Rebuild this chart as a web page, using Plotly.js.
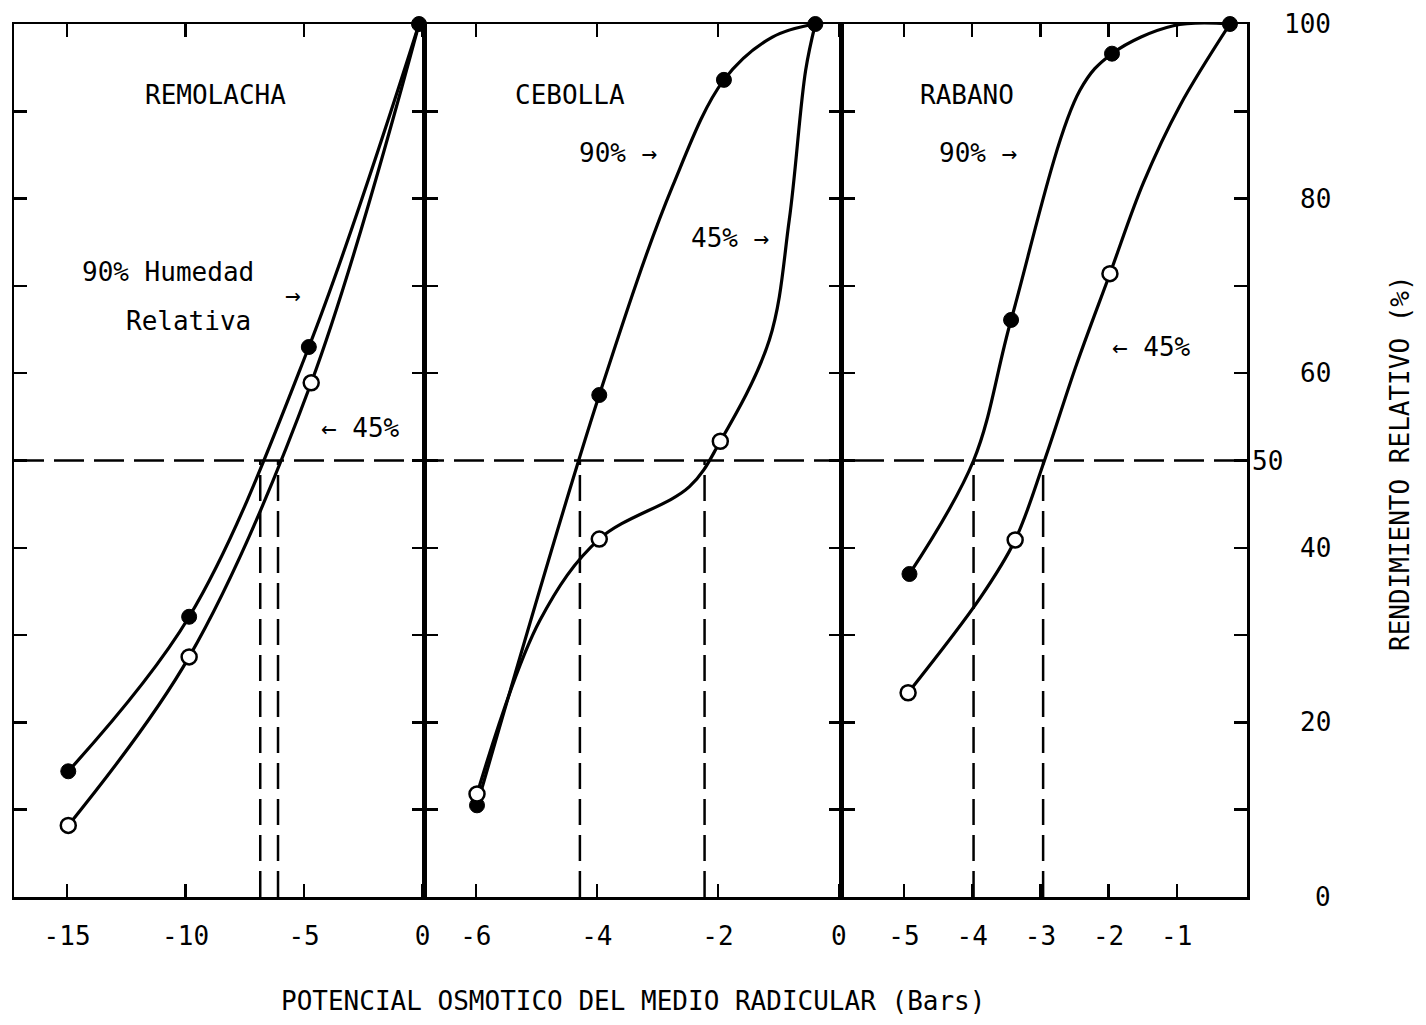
<!DOCTYPE html>
<html>
<head>
<meta charset="utf-8">
<script src="https://cdn.plot.ly/plotly-3.0.1.min.js"></script>
<style>html,body{margin:0;padding:0;background:#fff;}#chart{width:1426px;height:1025px;}</style>
</head>
<body>
<div id="chart"></div>
<script>
// ---------- DATA ----------
// REMOLACHA – measured points
const rem90X = [-14.95, -9.85, -4.8, -0.15];
const rem90Y = [14.4, 32.1, 63.0, 100];
const rem45X = [-14.95, -9.85, -4.7];
const rem45Y = [8.2, 27.5, 58.9];
const remCuts = [-6.85, -6.1];
// CEBOLLA – measured points
const ceb90X = [-5.98, -3.96, -1.9, -0.39];
const ceb90Y = [10.5, 57.5, 93.6, 100];
const ceb45X = [-5.98, -3.96, -1.96];
const ceb45Y = [11.8, 41.0, 52.2];
const cebCuts = [-4.28, -2.22];
// CEBOLLA – drawn curves
const ceb90CurveX = [-5.98, -3.96, -2.75, -1.90, -1.10, -0.39];
const ceb90CurveY = [10.5, 57.5, 81.4, 93.6, 98.5, 100];
const ceb45CurveX = [-5.98, -4.94, -3.96, -2.47, -1.96, -1.15, -0.82, -0.55, -0.39];
const ceb45CurveY = [11.8, 31.7, 41.0, 47.0, 52.2, 63.8, 77.6, 94.7, 100];
// RABANO – measured points
const rab90X = [-4.92, -3.43, -1.95, -0.22];
const rab90Y = [37.0, 66.1, 96.6, 100];
const rab45X = [-4.94, -3.37, -1.98];
const rab45Y = [23.4, 40.9, 71.4];
const rabCuts = [-3.98, -2.96];
// RABANO – drawn curves
const rab90CurveX = [-4.92, -3.98, -3.43, -2.42, -1.95, -1.05, -0.22];
const rab90CurveY = [37.0, 50.0, 66.1, 92.4, 96.6, 99.8, 100];
const rab45CurveX = [-4.94, -3.88, -3.37, -2.94, -2.47, -1.98, -1.49, -0.95, -0.22];
const rab45CurveY = [23.4, 34.3, 40.9, 50.0, 61.0, 71.4, 81.8, 90.7, 100];

const halfYield = 50;

const x1Ticks = [-15, -10, -5, 0];
const x1Text = ['-15', '-10', '-5', '0'];
const x2Ticks = [-6, -4, -2, 0];
const x2Text = ['-6', '-4', '-2', '0'];
const x3Ticks = [-5, -4, -3, -2, -1];
const x3Text = ['-5', '-4', '-3', '-2', '-1'];
const yLabelVals = [100, 80, 60, 40, 20, 0];
const yMidLabel = 50;

const xTitle = 'POTENCIAL OSMOTICO DEL MEDIO RADICULAR (Bars)';
const yTitle = 'RENDIMIENTO RELATIVO (%)';
const panelNames = ['REMOLACHA', 'CEBOLLA', 'RABANO'];

// ---------- STYLE ----------
const FONT = 'DejaVu Sans Mono';
const FS = 26;
const INK = '#000';

const lineStyle = {color: INK, width: 3.2, shape: 'spline', smoothing: 1};
const filled = {symbol: 'circle', size: 15, color: INK, line: {color: INK, width: 1}};
const open = {symbol: 'circle', size: 15, color: '#fff', line: {color: INK, width: 2.5}};

function lineTrace(xa, ya, x, y) {
  return {x: x, y: y, xaxis: xa, yaxis: ya, mode: 'lines', line: lineStyle, cliponaxis: false, hoverinfo: 'skip'};
}
function markTrace(xa, ya, x, y, m) {
  return {x: x, y: y, xaxis: xa, yaxis: ya, mode: 'markers', marker: m, cliponaxis: false};
}

const data = [
  // REMOLACHA (smooth curve through the measured points)
  lineTrace('x', 'y', rem90X, rem90Y),
  lineTrace('x', 'y', rem45X.concat([rem90X[rem90X.length - 1]]), rem45Y.concat([rem90Y[rem90Y.length - 1]])),
  markTrace('x', 'y', rem90X, rem90Y, filled),
  markTrace('x', 'y', rem45X, rem45Y, open),
  // CEBOLLA
  lineTrace('x2', 'y2', ceb90CurveX, ceb90CurveY),
  lineTrace('x2', 'y2', ceb45CurveX, ceb45CurveY),
  markTrace('x2', 'y2', ceb90X, ceb90Y, filled),
  markTrace('x2', 'y2', ceb45X, ceb45Y, open),
  // RABANO
  lineTrace('x3', 'y3', rab90CurveX, rab90CurveY),
  lineTrace('x3', 'y3', rab45CurveX, rab45CurveY),
  markTrace('x3', 'y3', rab90X, rab90Y, filled),
  markTrace('x3', 'y3', rab45X, rab45Y, open)
];

function xAxis(domain, range, anchor, vals, text) {
  return {
    domain: domain, range: range, anchor: anchor,
    tickmode: 'array', tickvals: vals, ticktext: text,
    ticks: 'inside', ticklen: 13, tickwidth: 2.5, tickcolor: INK,
    showline: true, linewidth: 2.5, linecolor: INK, mirror: 'ticks',
    showgrid: false, zeroline: false,
    tickfont: {family: FONT, size: FS, color: INK},
    ticklabelstandoff: 14, fixedrange: true
  };
}
function yAxis(anchor) {
  return {
    domain: [0, 1], range: [0, 100], anchor: anchor,
    tickmode: 'linear', tick0: 0, dtick: 10,
    ticks: 'inside', ticklen: 13, tickwidth: 2.5, tickcolor: INK,
    showline: true, linewidth: 2.5, linecolor: INK, mirror: 'ticks',
    showgrid: false, zeroline: false, showticklabels: false, fixedrange: true
  };
}

const dashH = {color: INK, width: 2.5, dash: '30px,10px'};
const dashV = {color: INK, width: 2.5, dash: '26px,10px'};
const shapes = [{type: 'line', xref: 'paper', x0: 0, x1: 1, yref: 'y', y0: halfYield, y1: halfYield, line: dashH, layer: 'below'}];
[['x', 'y', remCuts], ['x2', 'y2', cebCuts], ['x3', 'y3', rabCuts]].forEach(function (p) {
  p[2].forEach(function (c) {
    shapes.push({type: 'line', xref: p[0], yref: p[1], x0: c, x1: c, y0: 0, y1: halfYield, line: dashV, layer: 'below'});
  });
});

const tf = {family: FONT, size: FS, color: INK};
const annotations = [
  {xref: 'x', yref: 'y', x: -8.75, y: 91.9, text: panelNames[0], showarrow: false, font: tf, xanchor: 'center'},
  {xref: 'x', yref: 'y', x: -14.45, y: 71.6, text: '90% Humedad', showarrow: false, font: tf, xanchor: 'left'},
  {xref: 'x', yref: 'y', x: -7.14, y: 66.0, text: 'Relativa', showarrow: false, font: tf, xanchor: 'right'},
  {xref: 'x', yref: 'y', x: -5.45, y: 69.0, text: '→', showarrow: false, font: tf, xanchor: 'center'},
  {xref: 'x', yref: 'y', x: -4.39, y: 53.7, text: '← 45%', showarrow: false, font: tf, xanchor: 'left'},
  {xref: 'x2', yref: 'y2', x: -4.45, y: 91.9, text: panelNames[1], showarrow: false, font: tf, xanchor: 'center'},
  {xref: 'x2', yref: 'y2', x: -4.32, y: 85.2, text: '90% →', showarrow: false, font: tf, xanchor: 'left'},
  {xref: 'x2', yref: 'y2', x: -2.47, y: 75.5, text: '45% →', showarrow: false, font: tf, xanchor: 'left'},
  {xref: 'x3', yref: 'y3', x: -4.07, y: 91.9, text: panelNames[2], showarrow: false, font: tf, xanchor: 'center'},
  {xref: 'x3', yref: 'y3', x: -4.51, y: 85.2, text: '90% →', showarrow: false, font: tf, xanchor: 'left'},
  {xref: 'x3', yref: 'y3', x: -1.98, y: 63.0, text: '← 45%', showarrow: false, font: tf, xanchor: 'left'},
  {xref: 'paper', yref: 'paper', x: 0.502, y: -0.119, text: xTitle, showarrow: false, font: tf, xanchor: 'center', yanchor: 'middle'},
  {xref: 'paper', yref: 'paper', x: 1.124, y: 0.497, text: yTitle, showarrow: false, font: tf, textangle: -90, xanchor: 'center', yanchor: 'middle'}
];
yLabelVals.forEach(function (v) {
  annotations.push({xref: 'paper', yref: 'y', x: 1.0698, y: v, text: String(v), showarrow: false, font: tf, xanchor: 'right', yanchor: 'middle'});
});
annotations.push({xref: 'paper', yref: 'y', x: 1.0024, y: yMidLabel, text: String(yMidLabel), showarrow: false, font: tf, xanchor: 'left', yanchor: 'middle'});

const layout = {
  width: 1426, height: 1025,
  margin: {l: 14, r: 179, t: 24, b: 128},
  paper_bgcolor: '#fff', plot_bgcolor: '#fff',
  showlegend: false,
  font: {family: FONT, size: FS, color: INK},
  xaxis: xAxis([0, 0.3333], [-17.24, 0.1], 'y', x1Ticks, x1Text),
  xaxis2: xAxis([0.3333, 0.6715], [-6.84, 0.05], 'y2', x2Ticks, x2Text),
  xaxis3: xAxis([0.6715, 1], [-5.91, 0.03], 'y3', x3Ticks, x3Text),
  yaxis: yAxis('x'),
  yaxis2: yAxis('x2'),
  yaxis3: yAxis('x3'),
  shapes: shapes,
  annotations: annotations
};

Plotly.newPlot('chart', data, layout, {displayModeBar: false, staticPlot: true});
</script>
</body>
</html>
